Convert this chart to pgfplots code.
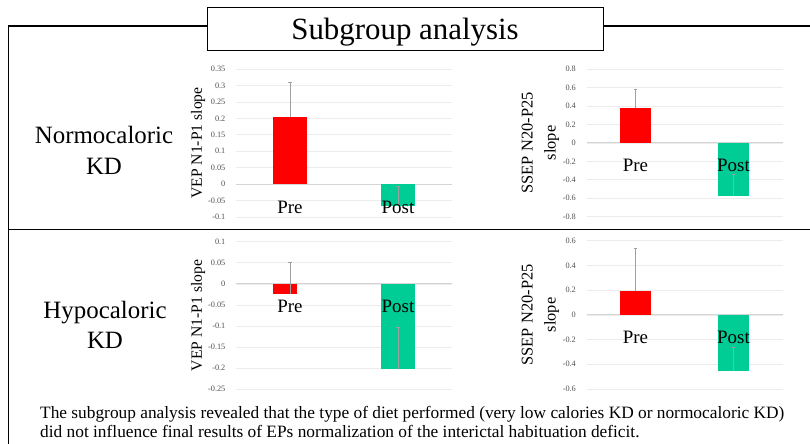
\documentclass[border=0pt]{standalone}
\usepackage{fontspec}
\setmainfont{Liberation Serif}
\usepackage{pgfplots}
\pgfplotsset{compat=1.18}
\definecolor{barred}{RGB}{255,0,0}
\definecolor{bargreen}{RGB}{0,204,150}
\definecolor{gridc}{RGB}{236,236,236}
\definecolor{zeroc}{RGB}{212,212,212}
\definecolor{errc}{RGB}{160,160,160}
\definecolor{tickc}{RGB}{80,80,80}
\pgfplotsset{
  panel/.style={
    scale only axis, anchor=south west,
    xmin=0, xmax=2, ybar,
    axis x line=middle, axis y line=left,
    hide obscured x ticks=false, hide obscured y ticks=false,
    x axis line style={draw=zeroc, line width=0.8bp, -},
    y axis line style={draw=none},
    tick style={draw=none},
    xtick=\empty,
    ymajorgrids, grid style={draw=gridc, line width=0.6bp},
    yticklabel style={font=\fontsize{8.3}{9}\selectfont, text=tickc, xshift=-5bp},
    /pgf/number format/assume math mode=true,
    /pgf/number format/fixed,
    ylabel style={align=center, anchor=center},
  },
  errb/.style={error bars/.cd, y dir=plus, y explicit,
    error bar style={draw=errc, line width=0.6bp},
    error mark options={draw=errc, mark size=1.6bp, line width=0.6bp, rotate=90}},
  catlabels/.style={sharp plot, draw=none, mark=none,
    nodes near coords, point meta=explicit symbolic,
    nodes near coords align={anchor=north},
    every node near coord/.append style={font=\fontsize{19}{19}\selectfont, text=black, yshift=-13bp}},
}
\begin{document}
\begin{tikzpicture}[x=1bp,y=1bp]
\useasboundingbox (0,0) rectangle (810,-444);
% frame
\draw[line width=1.5bp] (8.5,-444) -- (8.5,-26) -- (207.3,-26);
\draw[line width=1.5bp] (603.3,-26) -- (812,-26);
\draw[line width=1.3bp] (8.5,-229.3) -- (812,-229.3);
\draw[line width=1.3bp, fill=white] (207.3,-7.3) rectangle (603.3,-50.7);
\node[anchor=base, font=\fontsize{31}{31}\selectfont, inner sep=0] at (405,-39.3) {Subgroup analysis};
% row labels
\node[align=center, font=\fontsize{25}{31}\selectfont] at (104,-150) {Normocaloric\\KD};
\node[align=center, font=\fontsize{25}{30}\selectfont] at (105,-324.5) {Hypocaloric\\KD};
% caption
\node[anchor=base west, inner sep=0, font=\fontsize{17.4}{20}\selectfont] at (40,-418.7) {The subgroup analysis revealed that the type of diet performed (very low calories KD or normocaloric KD)};
\node[anchor=base west, inner sep=0, font=\fontsize{17.4}{20}\selectfont] at (40,-437.6) {did not influence final results of EPs normalization of the interictal habituation deficit.};

% Panel 1: Normocaloric VEP
\begin{axis}[panel, at={(236bp,-217bp)}, width=216bp, height=148bp,
  ymin=-0.1, ymax=0.35, ytick={-0.1,-0.05,0,0.05,0.1,0.15,0.2,0.25,0.3,0.35},
  ylabel={VEP N1-P1 slope}, ylabel style={font=\fontsize{15.7}{23}\selectfont, at={(axis description cs:-0.176,0.5)}}]
\addplot[fill=barred, draw=none, bar width=34bp, bar shift=0pt, errb] coordinates {(0.5,0.205) +- (0,0.106)};
\addplot[fill=bargreen, draw=none, bar width=34bp, bar shift=0pt, errb] coordinates {(1.5,-0.068) +- (0,0.060)};
\addplot[catlabels] coordinates {(0.5,0) [Pre] (1.5,0) [Post]};
\end{axis}

% Panel 2: Normocaloric SSEP
\begin{axis}[panel, at={(586.5bp,-216.7bp)}, width=196bp, height=147.7bp,
  ymin=-0.8, ymax=0.8, ytick={-0.8,-0.6,-0.4,-0.2,0,0.2,0.4,0.6,0.8},
  ylabel={SSEP N20-P25\\slope}, ylabel style={font=\fontsize{16.5}{23}\selectfont, at={(axis description cs:-0.235,0.5)}}]
\addplot[fill=barred, draw=none, bar width=31bp, bar shift=0pt, errb] coordinates {(0.5,0.375) +- (0,0.210)};
\addplot[fill=bargreen, draw=none, bar width=31bp, bar shift=0pt, errb] coordinates {(1.5,-0.578) +- (0,0.242)};
\addplot[catlabels] coordinates {(0.5,0) [Pre] (1.5,0) [Post]};
\end{axis}

% Panel 3: Hypocaloric VEP
\begin{axis}[panel, at={(236bp,-389.3bp)}, width=216bp, height=147.6bp,
  ymin=-0.25, ymax=0.1, ytick={-0.25,-0.2,-0.15,-0.1,-0.05,0,0.05,0.1},
  ylabel={VEP N1-P1 slope}, ylabel style={font=\fontsize{15.7}{23}\selectfont, at={(axis description cs:-0.176,0.5)}}]
\addplot[fill=barred, draw=none, bar width=24bp, bar shift=-5bp] coordinates {(0.5,-0.024)};
\addplot[fill=none, draw=none, bar width=24bp, bar shift=0pt, errb] coordinates {(0.5,-0.024) +- (0,0.075)};
\addplot[fill=bargreen, draw=none, bar width=34bp, bar shift=0pt, errb] coordinates {(1.5,-0.202) +- (0,0.098)};
\addplot[catlabels] coordinates {(0.5,0) [Pre] (1.5,0) [Post]};
\end{axis}

% Panel 4: Hypocaloric SSEP
\begin{axis}[panel, at={(586.5bp,-389bp)}, width=196bp, height=148.3bp,
  ymin=-0.6, ymax=0.6, ytick={-0.6,-0.4,-0.2,0,0.2,0.4,0.6},
  ylabel={SSEP N20-P25\\slope}, ylabel style={font=\fontsize{16.5}{23}\selectfont, at={(axis description cs:-0.235,0.5)}}]
\addplot[fill=barred, draw=none, bar width=31bp, bar shift=0pt, errb] coordinates {(0.5,0.197) +- (0,0.342)};
\addplot[fill=bargreen, draw=none, bar width=31bp, bar shift=0pt, errb] coordinates {(1.5,-0.456) +- (0,0.194)};
\addplot[catlabels] coordinates {(0.5,0) [Pre] (1.5,0) [Post]};
\end{axis}
\end{tikzpicture}
\end{document}
